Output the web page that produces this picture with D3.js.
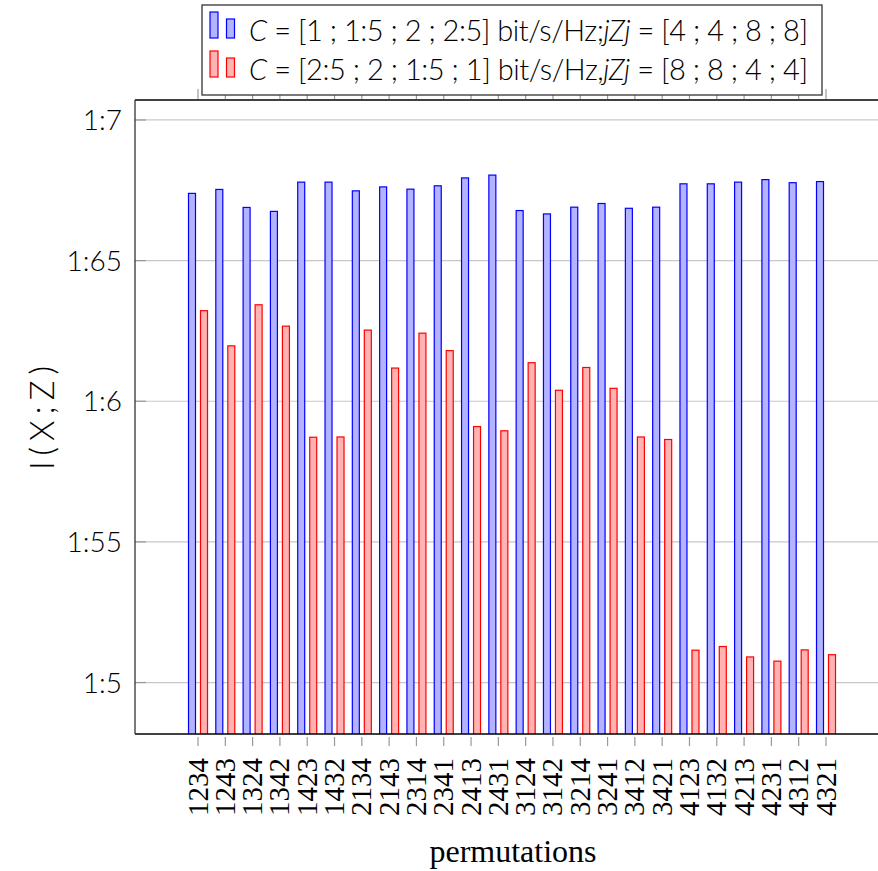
<!DOCTYPE html>
<html>
<head>
<meta charset="utf-8">
<script src="https://cdn.jsdelivr.net/npm/d3@7"></script>
<style>
  body { margin: 0; background: #fff; }
  svg { display: block; }
</style>
</head>
<body>
<svg></svg>
<script>
const SVG_WIDTH = 878;
const SVG_HEIGHT = 871;
const PLOT_LEFT = 135;
const PLOT_RIGHT = 890;
const PLOT_TOP = 100;
const PLOT_BOTTOM = 734;
const FIRST_X = 198;
const LAST_X = 826;
const BAR_WIDTH = 7;
const BAR_OFFSET = 6;

const permutations = ["1234", "1243", "1324", "1342", "1423", "1432", "2134", "2143",
  "2314", "2341", "2413", "2431", "3124", "3142", "3214", "3241",
  "3412", "3421", "4123", "4132", "4213", "4231", "4312", "4321"];

const blueValues = [1.6739, 1.6753, 1.6689, 1.6675, 1.6779, 1.6779, 1.6748, 1.6762,
  1.6754, 1.6766, 1.6794, 1.6804, 1.6678, 1.6666, 1.6690, 1.6703,
  1.6686, 1.6690, 1.6773, 1.6773, 1.6779, 1.6788, 1.6777, 1.6781];

const redValues = [1.6322, 1.6197, 1.6343, 1.6267, 1.5872, 1.5873, 1.6253, 1.6118,
  1.6242, 1.6180, 1.5910, 1.5895, 1.6137, 1.6039, 1.6120, 1.6046,
  1.5873, 1.5864, 1.5115, 1.5128, 1.5091, 1.5076, 1.5116, 1.5099];

const yTicks = [1.5, 1.55, 1.6, 1.65, 1.7];
const yTickLabels = ["1:5", "1:55", "1:6", "1:65", "1:7"];

const series = [
  {values: blueValues, fill: "#b3b3ff", stroke: "#0000ff", offset: -BAR_OFFSET},
  {values: redValues, fill: "#ffb3b3", stroke: "#ff0000", offset: BAR_OFFSET}
];

const svg = d3.select("svg").attr("width", SVG_WIDTH).attr("height", SVG_HEIGHT);

const xScale = d3.scalePoint().domain(permutations).range([FIRST_X, LAST_X]);
const yScale = d3.scaleLinear().domain([1.4817, 1.7071]).range([PLOT_BOTTOM, PLOT_TOP]);

const sans = "Lato, 'Open Sans', sans-serif";
const serif = "'Times New Roman', 'Liberation Serif', serif";

// Grid lines
svg.append("g").selectAll("line")
  .data(yTicks)
  .enter()
  .append("line")
  .attr("x1", PLOT_LEFT).attr("x2", PLOT_RIGHT)
  .attr("y1", d => yScale(d)).attr("y2", d => yScale(d))
  .attr("stroke", "#c8c8c8").attr("stroke-width", 1.2);

// Y tick marks (inside)
svg.append("g").selectAll("line")
  .data(yTicks)
  .enter()
  .append("line")
  .attr("x1", PLOT_LEFT).attr("x2", PLOT_LEFT + 11)
  .attr("y1", d => yScale(d)).attr("y2", d => yScale(d))
  .attr("stroke", "#999").attr("stroke-width", 1.2);

// Bars
svg.append("clipPath").attr("id", "plotclip")
  .append("rect")
  .attr("x", PLOT_LEFT).attr("y", PLOT_TOP)
  .attr("width", PLOT_RIGHT - PLOT_LEFT).attr("height", PLOT_BOTTOM - PLOT_TOP);

const barArea = svg.append("g").attr("clip-path", "url(#plotclip)");
series.forEach(function(s) {
  barArea.append("g").selectAll("rect")
    .data(s.values)
    .enter()
    .append("rect")
    .attr("x", (d, i) => xScale(permutations[i]) + s.offset - BAR_WIDTH / 2)
    .attr("y", d => yScale(d))
    .attr("width", BAR_WIDTH)
    .attr("height", d => PLOT_BOTTOM + 5 - yScale(d))
    .attr("fill", s.fill)
    .attr("stroke", s.stroke)
    .attr("stroke-width", 1.2);
});

// X ticks, bottom and top (both outside)
svg.append("g").selectAll("line")
  .data(permutations)
  .enter()
  .append("line")
  .attr("x1", d => xScale(d)).attr("x2", d => xScale(d))
  .attr("y1", PLOT_BOTTOM + 3).attr("y2", PLOT_BOTTOM + 12)
  .attr("stroke", "#999").attr("stroke-width", 1.2);

svg.append("g").selectAll("line")
  .data(permutations)
  .enter()
  .append("line")
  .attr("x1", d => xScale(d)).attr("x2", d => xScale(d))
  .attr("y1", PLOT_TOP - 11).attr("y2", PLOT_TOP - 1)
  .attr("stroke", "#999").attr("stroke-width", 1.2);

// Axis lines
svg.append("line")
  .attr("x1", PLOT_LEFT).attr("x2", PLOT_RIGHT)
  .attr("y1", PLOT_BOTTOM).attr("y2", PLOT_BOTTOM)
  .attr("stroke", "#000").attr("stroke-width", 1.3);
svg.append("line")
  .attr("x1", PLOT_LEFT).attr("x2", PLOT_RIGHT)
  .attr("y1", PLOT_TOP).attr("y2", PLOT_TOP)
  .attr("stroke", "#000").attr("stroke-width", 1.3);
svg.append("line")
  .attr("x1", PLOT_LEFT).attr("x2", PLOT_LEFT)
  .attr("y1", PLOT_TOP).attr("y2", PLOT_BOTTOM)
  .attr("stroke", "#333").attr("stroke-width", 1.3);

// Y tick labels
svg.append("g").selectAll("text")
  .data(yTicks)
  .enter()
  .append("text")
  .attr("x", PLOT_LEFT - 13)
  .attr("y", d => yScale(d) + 10)
  .attr("text-anchor", "end")
  .attr("font-family", sans)
  .attr("font-weight", 300)
  .attr("font-size", 28)
  .text((d, i) => yTickLabels[i]);

// X tick labels (rotated)
svg.append("g").selectAll("text")
  .data(permutations)
  .enter()
  .append("text")
  .attr("transform", d => "translate(" + (xScale(d) + 9.5) + "," + (PLOT_BOTTOM + 24) + ") rotate(-90)")
  .attr("text-anchor", "end")
  .attr("font-family", serif)
  .attr("font-size", 29)
  .text(d => d);

// Axis titles
svg.append("text")
  .attr("x", 513).attr("y", 862)
  .attr("text-anchor", "middle")
  .attr("font-family", serif)
  .attr("font-size", 32)
  .text("permutations");

svg.append("text")
  .attr("transform", "translate(54,418) rotate(-90)")
  .attr("text-anchor", "middle")
  .attr("font-family", sans)
  .attr("font-weight", 300)
  .attr("font-size", 33)
  .attr("textLength", 104)
  .attr("lengthAdjust", "spacing")
  .text("I(X;Z)");

// Legend
const legend = svg.append("g");
legend.append("rect")
  .attr("x", 202).attr("y", 5).attr("width", 620).attr("height", 90)
  .attr("fill", "#fff").attr("stroke", "#333").attr("stroke-width", 1.3);

const legendRows = [
  [["C", true], [" = [1 ; 1:5 ; 2 ; 2:5] bit/s/Hz;", false], ["jZj", true], [" = [4 ; 4 ; 8 ; 8]", false]],
  [["C", true], [" = [2:5 ; 2 ; 1:5 ; 1] bit/s/Hz,", false], ["jZj", true], [" = [8 ; 8 ; 4 ; 4]", false]]
];

legendRows.forEach(function(parts, r) {
  const s = series[r];
  const top = 12 + r * 39;
  legend.append("rect")
    .attr("x", 210).attr("y", top).attr("width", 8).attr("height", 26)
    .attr("fill", s.fill).attr("stroke", s.stroke).attr("stroke-width", 1.2);
  legend.append("rect")
    .attr("x", 226.5).attr("y", top + 7).attr("width", 8).attr("height", 19)
    .attr("fill", s.fill).attr("stroke", s.stroke).attr("stroke-width", 1.2);
  const t = legend.append("text")
    .attr("x", 249).attr("y", top + 29)
    .attr("font-family", sans)
    .attr("font-weight", 300)
    .attr("font-size", 29)
    .attr("textLength", 559)
    .attr("lengthAdjust", "spacing");
  parts.forEach(function(p) {
    t.append("tspan").attr("font-style", p[1] ? "italic" : "normal").text(p[0]);
  });
});
</script>
</body>
</html>
